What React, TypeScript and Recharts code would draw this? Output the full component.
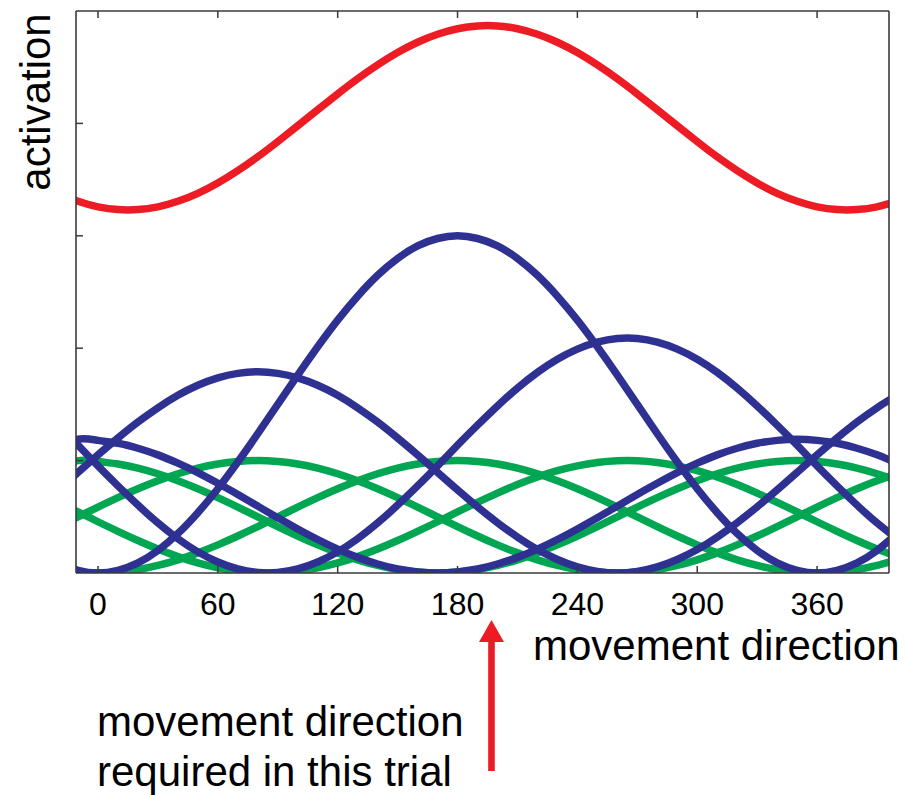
import React from "react";
import { LineChart, Line, XAxis, YAxis, ReferenceLine } from "recharts";

// movement directions (degrees) at which the tuning curves were read
const directions = [
  -20, -10, 0, 10, 20, 30, 40, 50, 60, 70, 80, 90, 100, 110, 120, 130, 140, 150, 160, 170,
  180, 190, 200, 210, 220, 230, 240, 250, 260, 270, 280, 290, 300, 310, 320, 330, 340, 350,
  360, 370, 380, 390, 400,
];

// green: unweighted tuning curves
const green80 = [
  0.413, 0.5, 0.587, 0.671, 0.75, 0.821, 0.883, 0.933, 0.97, 0.992, 1.0, 0.992, 0.97, 0.933,
  0.883, 0.821, 0.75, 0.671, 0.587, 0.5, 0.413, 0.329, 0.25, 0.179, 0.117, 0.067, 0.03, 0.008,
  0.0, 0.008, 0.03, 0.067, 0.117, 0.179, 0.25, 0.329, 0.413, 0.5, 0.587, 0.671, 0.75, 0.821, 0.883,
];
const green180 = [
  0.03, 0.008, 0.0, 0.008, 0.03, 0.067, 0.117, 0.179, 0.25, 0.329, 0.413, 0.5, 0.587, 0.671,
  0.75, 0.821, 0.883, 0.933, 0.97, 0.992, 1.0, 0.992, 0.97, 0.933, 0.883, 0.821, 0.75, 0.671,
  0.587, 0.5, 0.413, 0.329, 0.25, 0.179, 0.117, 0.067, 0.03, 0.008, 0.0, 0.008, 0.03, 0.067, 0.117,
];
const green265 = [
  0.629, 0.544, 0.456, 0.371, 0.289, 0.213, 0.146, 0.09, 0.047, 0.017, 0.002, 0.002, 0.017,
  0.047, 0.09, 0.146, 0.213, 0.289, 0.371, 0.456, 0.544, 0.629, 0.711, 0.787, 0.854, 0.91,
  0.953, 0.983, 0.998, 0.998, 0.983, 0.953, 0.91, 0.854, 0.787, 0.711, 0.629, 0.544, 0.456,
  0.371, 0.289, 0.213, 0.146,
];
const green350 = [
  0.933, 1.0, 0.992, 0.97, 0.933, 0.883, 0.821, 0.75, 0.671, 0.587, 0.5, 0.413, 0.329, 0.25,
  0.179, 0.117, 0.067, 0.03, 0.008, 0.0, 0.008, 0.03, 0.067, 0.117, 0.179, 0.25, 0.329, 0.413,
  0.5, 0.587, 0.671, 0.75, 0.821, 0.883, 0.933, 0.97, 0.992, 1.0, 0.992, 0.97, 0.933, 0.883, 0.821,
];

// blue: weighted tuning curves
const blue80 = [
  0.739, 0.895, 1.051, 1.201, 1.343, 1.47, 1.581, 1.67, 1.736, 1.776, 1.79, 1.776, 1.736, 1.67,
  1.581, 1.47, 1.343, 1.201, 1.051, 0.895, 0.739, 0.589, 0.448, 0.32, 0.209, 0.12, 0.054, 0.014,
  0.0, 0.014, 0.054, 0.12, 0.209, 0.32, 0.448, 0.589, 0.739, 0.895, 1.051, 1.201, 1.343, 1.47, 1.581,
];
const blue180 = [
  0.09, 0.024, 0.0, 0.024, 0.09, 0.201, 0.351, 0.537, 0.75, 0.987, 1.239, 1.5, 1.761, 2.013,
  2.25, 2.463, 2.649, 2.799, 2.91, 2.976, 3.0, 2.976, 2.91, 2.799, 2.649, 2.463, 2.25, 2.013,
  1.761, 1.5, 1.239, 0.987, 0.75, 0.537, 0.351, 0.201, 0.09, 0.024, 0.0, 0.024, 0.09, 0.201, 0.351,
];
const blue265 = [
  1.315, 1.137, 0.953, 0.775, 0.604, 0.445, 0.305, 0.188, 0.098, 0.036, 0.004, 0.004, 0.036,
  0.098, 0.188, 0.305, 0.445, 0.604, 0.775, 0.953, 1.137, 1.315, 1.486, 1.645, 1.785, 1.902,
  1.992, 2.054, 2.086, 2.086, 2.054, 1.992, 1.902, 1.785, 1.645, 1.486, 1.315, 1.137, 0.953,
  0.775, 0.604, 0.445, 0.305,
];
const blue350 = [
  1.11, 1.19, 1.18, 1.154, 1.11, 1.051, 0.977, 0.893, 0.798, 0.699, 0.595, 0.491, 0.392, 0.298,
  0.213, 0.139, 0.08, 0.036, 0.01, 0.0, 0.01, 0.036, 0.08, 0.139, 0.213, 0.298, 0.392, 0.491,
  0.595, 0.699, 0.798, 0.893, 0.977, 1.051, 1.11, 1.154, 1.18, 1.19, 1.18, 1.154, 1.11, 1.051, 0.977,
];

// red: population activation
const redSum = [
  3.378, 3.307, 3.258, 3.233, 3.233, 3.258, 3.307, 3.378, 3.47, 3.58, 3.703, 3.838, 3.979,
  4.121, 4.262, 4.397, 4.52, 4.63, 4.722, 4.793, 4.842, 4.867, 4.867, 4.842, 4.793, 4.722,
  4.63, 4.52, 4.397, 4.262, 4.121, 3.979, 3.838, 3.703, 3.58, 3.47, 3.378, 3.307, 3.258, 3.233,
  3.233, 3.258, 3.307,
];

const xTicks = [0, 60, 120, 180, 240, 300, 360];
const yTicks = [1, 2, 3, 4];
const trialDirection = 197;

const data = directions.map((d, i) => ({
  dir: d,
  g80: green80[i],
  g180: green180[i],
  g265: green265[i],
  g350: green350[i],
  b80: blue80[i],
  b180: blue180[i],
  b265: blue265[i],
  b350: blue350[i],
  red: redSum[i],
}));

const FONT = "'Liberation Sans', Arial, Helvetica, sans-serif";
const RED = "#ED1C24";
const BLUE = "#2E3192";
const GREEN = "#00A651";
const AXIS = "#3a3a3a";
const TICK_LEN = 7;

const BottomTick = (p: any) => (
  <g>
    <line x1={p.x} x2={p.x} y1={p.y} y2={p.y - TICK_LEN} stroke={AXIS} strokeWidth={1.5} />
    <text x={p.x} y={p.y + 42} textAnchor="middle" fontSize={32} fontFamily={FONT} fill="#000">
      {p.payload.value}
    </text>
  </g>
);
const TopTick = (p: any) => (
  <line x1={p.x} x2={p.x} y1={p.y} y2={p.y + TICK_LEN} stroke={AXIS} strokeWidth={1.5} />
);
const LeftTick = (p: any) => (
  <line x1={p.x} x2={p.x + TICK_LEN} y1={p.y} y2={p.y} stroke={AXIS} strokeWidth={1.5} />
);
const RightTick = (p: any) => (
  <line x1={p.x} x2={p.x - TICK_LEN} y1={p.y} y2={p.y} stroke={AXIS} strokeWidth={1.5} />
);

const TrialArrow = (p: any) => {
  const x = p.x1;
  const bottom = Math.max(p.y1, p.y2);
  const tip = bottom + 47;
  const headBase = bottom + 69;
  const tail = bottom + 198;
  return (
    <g>
      <rect x={x - 3.3} y={headBase - 1} width={6.6} height={tail - headBase + 1} fill={RED} />
      <polygon points={`${x},${tip} ${x - 12.5},${headBase} ${x + 12.5},${headBase}`} fill={RED} />
    </g>
  );
};

export default function App() {
  const lineCommon = {
    type: "natural" as const,
    dot: false,
    activeDot: false,
    isAnimationActive: false,
    strokeWidth: 7.5,
    strokeLinejoin: "round" as const,
  };
  return (
    <div style={{ position: "absolute", left: 0, top: 0, width: 905, height: 795, background: "#fff" }}>
      <LineChart
        width={905}
        height={795}
        data={data}
        margin={{ top: 10, right: 15, bottom: 221, left: 75 }}
      >
        <XAxis
          xAxisId="b"
          dataKey="dir"
          type="number"
          domain={[-11, 396]}
          allowDataOverflow
          ticks={xTicks}
          interval={0}
          height={1}
          tickSize={0}
          tickMargin={0}
          tickLine={false}
          tick={BottomTick}
          axisLine={{ stroke: AXIS, strokeWidth: 1.6 }}
        />
        <XAxis
          xAxisId="t"
          orientation="top"
          dataKey="dir"
          type="number"
          domain={[-11, 396]}
          allowDataOverflow
          ticks={xTicks}
          interval={0}
          height={1}
          tickSize={0}
          tickMargin={0}
          tickLine={false}
          tick={TopTick}
          axisLine={{ stroke: AXIS, strokeWidth: 1.6 }}
        />
        <YAxis
          yAxisId="l"
          type="number"
          domain={[0, 5]}
          allowDataOverflow
          ticks={yTicks}
          interval={0}
          width={1}
          tickSize={0}
          tickMargin={0}
          tickLine={false}
          tick={LeftTick}
          axisLine={{ stroke: AXIS, strokeWidth: 1.6 }}
        />
        <YAxis
          yAxisId="r"
          orientation="right"
          type="number"
          domain={[0, 5]}
          ticks={yTicks}
          interval={0}
          width={1}
          tickSize={0}
          tickMargin={0}
          tickLine={false}
          tick={RightTick}
          axisLine={{ stroke: AXIS, strokeWidth: 1.6 }}
        />
        <Line xAxisId="b" yAxisId="l" dataKey="g80" stroke={GREEN} {...lineCommon} />
        <Line xAxisId="b" yAxisId="l" dataKey="g180" stroke={GREEN} {...lineCommon} />
        <Line xAxisId="b" yAxisId="l" dataKey="g265" stroke={GREEN} {...lineCommon} />
        <Line xAxisId="b" yAxisId="l" dataKey="g350" stroke={GREEN} {...lineCommon} />
        <Line xAxisId="b" yAxisId="l" dataKey="b80" stroke={BLUE} {...lineCommon} />
        <Line xAxisId="b" yAxisId="l" dataKey="b180" stroke={BLUE} {...lineCommon} />
        <Line xAxisId="b" yAxisId="l" dataKey="b265" stroke={BLUE} {...lineCommon} />
        <Line xAxisId="b" yAxisId="l" dataKey="b350" stroke={BLUE} {...lineCommon} />
        <Line xAxisId="b" yAxisId="l" dataKey="red" stroke={RED} {...lineCommon} />
        <ReferenceLine
          xAxisId="b"
          yAxisId="l"
          x={trialDirection}
          shape={TrialArrow}
        />
      </LineChart>
      <svg
        width={905}
        height={795}
        style={{ position: "absolute", left: 0, top: 0, pointerEvents: "none" }}
      >
        <text
          x={50}
          y={102}
          transform="rotate(-90 50 102)"
          textAnchor="middle"
          fontSize={42}
          fontFamily={FONT}
          fill="#000"
        >
          activation
        </text>
        <text x={533} y={660} fontSize={42} fontFamily={FONT} fill="#000">
          movement direction
        </text>
        <text x={97} y={736} fontSize={42} fontFamily={FONT} fill="#000">
          movement direction
        </text>
        <text x={97} y={786} fontSize={42} fontFamily={FONT} fill="#000">
          required in this trial
        </text>
      </svg>
    </div>
  );
}
